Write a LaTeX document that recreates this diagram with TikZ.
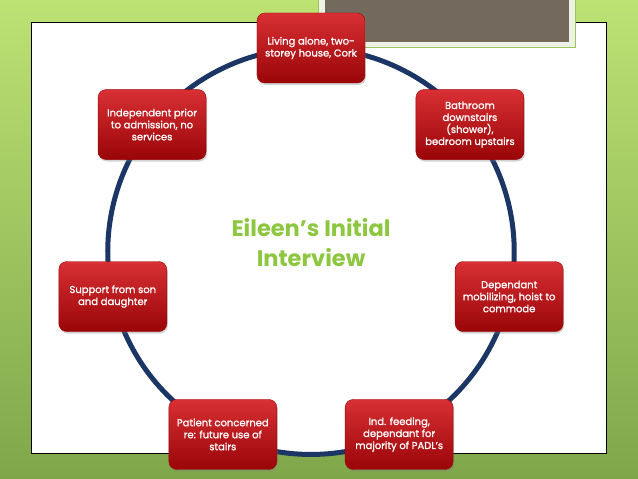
\documentclass[tikz,border=0pt]{standalone}
\usepackage{fontspec}
\setmainfont{Poppins}
\newfontfamily\stagefont{Poppins}[FakeBold=1.2]
\usepackage{xcolor}
\usetikzlibrary{positioning, backgrounds, shadows}
\definecolor{SlideLime}{HTML}{BCE274}
\definecolor{SlideGreen}{HTML}{7FA74A}
\definecolor{PanelWhite}{HTML}{FFFFFF}
\definecolor{PhotoGray}{HTML}{736A5D}
\definecolor{PhotoFrame}{HTML}{EEF2E4}
\definecolor{PhotoEdge}{HTML}{9CC45B}
\definecolor{StageRed}{HTML}{C80A0E}
\definecolor{StageRedLight}{HTML}{D83034}
\definecolor{StageRedDark}{HTML}{9A0508}
\definecolor{CycleNavy}{HTML}{1B3564}
\definecolor{TitleGreen}{HTML}{8DC63F}
\tikzset{
    % Stage box style
    stagebox/.style={
        rectangle,
        rounded corners=8pt,
        draw=StageRedDark,
        top color=StageRedLight,
        middle color=StageRed,
        bottom color=StageRedDark,
        minimum width=108pt,
        minimum height=70pt,
        align=center,
        text=white,
        font=\stagefont\fontsize{10}{12}\selectfont,
        drop shadow={opacity=0.35, shadow xshift=1pt, shadow yshift=-2pt}
    },
    % Cycle arc style
    cycleline/.style={
        draw=CycleNavy,
        line width=5pt,
        looseness=0.894
    },
    % Centre title style
    titletext/.style={
        align=center,
        text=TitleGreen,
        font=\fontsize{22.5}{30}\selectfont\bfseries
    }
}

\begin{document}
\begin{tikzpicture}[x=1pt, y=1pt]
    % Centre title
    \node (title) [titletext] at (0,9) {Eileen’s Initial\\Interview};

    % Stages round the cycle
    \node (living) [stagebox] at (90:203.3) {Living alone, two-\\storey house, Cork};
    \node (bathroom) [stagebox] at (38.57:203.3) {Bathroom\\downstairs\\(shower),\\bedroom upstairs};
    \node (mobilizing) [stagebox] at (-12.86:203.3) {Dependant\\mobilizing, hoist to\\commode};
    \node (feeding) [stagebox] at (-64.29:203.3) {Ind. feeding,\\dependant for\\majority of PADL’s};
    \node (stairs) [stagebox] at (-115.71:203.3) {Patient concerned\\re: future use of\\stairs};
    \node (support) [stagebox] at (-167.14:203.3) {Support from son\\and daughter};
    \node (prior) [stagebox] at (141.43:203.3) {Independent prior\\to admission, no\\services};

    \begin{scope}[on background layer]
        % Slide and panel
        \fill [top color=SlideLime, bottom color=SlideGreen] (-311,-227.7) rectangle (327,251.3);
        \useasboundingbox (-311,-227.7) rectangle (327,251.3);
        \draw [fill=PanelWhite, line width=1pt] (-279,-202.7) rectangle (295,228.3);
        \draw [fill=PhotoFrame, draw=PhotoEdge, line width=0.8pt] (7,204.3) rectangle (264,252);
        \fill [PhotoGray] (14,209.3) rectangle (258,252);

        % Cycle arcs
        \draw [cycleline] (living.center) to[bend left=25.71] (bathroom.center);
        \draw [cycleline] (bathroom.center) to[bend left=25.71] (mobilizing.center);
        \draw [cycleline] (mobilizing.center) to[bend left=25.71] (feeding.center);
        \draw [cycleline] (feeding.center) to[bend left=25.71] (stairs.center);
        \draw [cycleline] (stairs.center) to[bend left=25.71] (support.center);
        \draw [cycleline] (support.center) to[bend left=25.71] (prior.center);
        \draw [cycleline] (prior.center) to[bend left=25.71] (living.center);
    \end{scope}
\end{tikzpicture}
\end{document}
